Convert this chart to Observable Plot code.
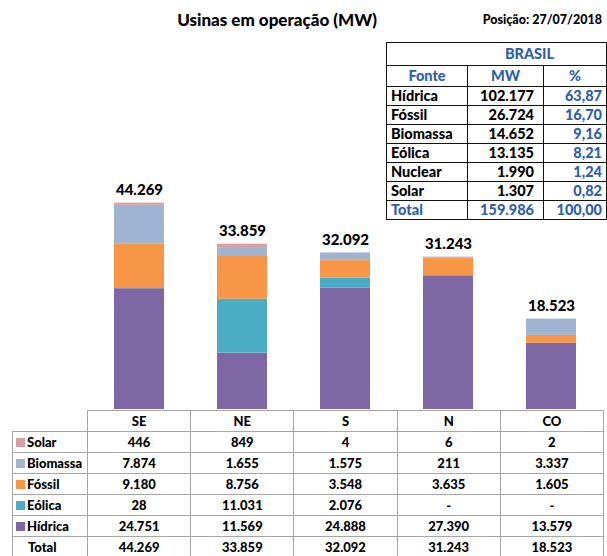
<!DOCTYPE html>
<html>
<head>
<meta charset="utf-8">
<script src="https://cdn.jsdelivr.net/npm/d3@7"></script>
<script src="https://cdn.jsdelivr.net/npm/@observablehq/plot@0.6"></script>
<style>
  html, body { margin: 0; padding: 0; background: #fff; }
  #wrap { position: relative; width: 607px; height: 556px; overflow: hidden; font-family: Lato, "Open Sans", sans-serif; font-weight: 900; color: #000; }
  #chart { position: absolute; left: 0; top: 0; }
  .title { position: absolute; top: 9px; font-size: 17px; white-space: nowrap; }
  #t1 { left: 277px; transform: translateX(-50%); }
  #t2 { right: 5px; font-size: 12.5px; top: 12px; }
  table { border-collapse: collapse; table-layout: fixed; position: absolute; }
  #brasil { left: 386px; top: 42px; width: 220px; font-size: 14.5px; }
  #brasil td { border: 1px solid #111; padding: 0 4px; height: 18px; line-height: 16px; white-space: nowrap; }
  #brasil .blue { color: #2d5fae; }
  #brasil .c { text-align: center; }
  #brasil .r { text-align: right; }
  #brasil .hdr td { height: 20px; }
  #brasil .top td { height: 22px; }
  #reg { left: 12px; top: 410px; font-size: 13px; }
  #reg td { border: 1px solid #a6a6a6; height: 20px; padding: 0 2px; text-align: center; white-space: nowrap; line-height: 18px; }
  #reg td.lab { text-align: left; padding-left: 3px; }
  #reg td.empty { border-top: none; border-left: none; }
  .sq { display: inline-block; width: 9px; height: 9px; margin-right: 2px; vertical-align: 0px; }
</style>
</head>
<body>
<div id="wrap">
  <div id="chart"></div>
  <div class="title" id="t1">Usinas em operação (MW)</div>
  <div class="title" id="t2">Posição: 27/07/2018</div>
  <table id="brasil"></table>
  <table id="reg"></table>
</div>
<script>
// ---- Data ----
const regions = ["SE", "NE", "S", "N", "CO"];
const fontes = ["Hídrica", "Eólica", "Fóssil", "Biomassa", "Solar"]; // stack order, bottom to top
const hidrica  = [24751, 11569, 24888, 27390, 13579];
const eolica   = [28, 11031, 2076, 0, 0];
const fossil   = [9180, 8756, 3548, 3635, 1605];
const biomassa = [7874, 1655, 1575, 211, 3337];
const solar    = [446, 849, 4, 6, 2];
const totals   = [44269, 33859, 32092, 31243, 18523];
const colors   = ["#7d67a5", "#4bacc6", "#f79646", "#9fb4d3", "#d9a0a1"];

const tableRows = ["Solar", "Biomassa", "Fóssil", "Eólica", "Hídrica"];

const brasilFontes = ["Hídrica", "Fóssil", "Biomassa", "Eólica", "Nuclear", "Solar"];
const brasilMW     = [102177, 26724, 14652, 13135, 1990, 1307];
const brasilPct    = [63.87, 16.70, 9.16, 8.21, 1.24, 0.82];
const brasilTotalMW = 159986;
const brasilTotalPct = 100.00;

const series = { "Hídrica": hidrica, "Eólica": eolica, "Fóssil": fossil, "Biomassa": biomassa, "Solar": solar };

// ---- Formatting (pt-BR) ----
const loc = d3.formatLocale({ decimal: ",", thousands: ".", grouping: [3], currency: ["R$", ""] });
const fInt = loc.format(",d");
const fPct = loc.format(",.2f");

// ---- Tidy data for Plot ----
const data = [];
regions.forEach((r, i) => fontes.forEach(f => data.push({ regiao: r, fonte: f, mw: series[f][i] })));
const labels = regions.map((r, i) => ({
  regiao: r,
  top: fontes.reduce((s, f) => s + series[f][i], 0),
  total: totals[i]
}));

const W = 607, left = 87, right = 4;
const plot = Plot.plot({
  width: W, height: 410,
  marginLeft: left, marginRight: right, marginTop: 165, marginBottom: 1,
  style: { fontFamily: "Lato, 'Open Sans', sans-serif", background: "transparent" },
  x: { domain: regions, paddingInner: 0.515, paddingOuter: 0.2575, axis: null },
  y: { domain: [0, 50000], axis: null },
  color: { domain: fontes, range: colors },
  marks: [
    Plot.barY(data, { x: "regiao", y: "mw", fill: "fonte", order: fontes }),
    Plot.text(labels, { x: "regiao", y: "top", text: d => fInt(d.total), dy: -13, fontSize: 15, fontWeight: 900, fill: "#000" })
  ]
});
document.getElementById("chart").appendChild(plot);

// ---- Region table ----
const colW = (W - left - right) / regions.length;
const reg = document.getElementById("reg");
let html = `<colgroup><col style="width:75px">${regions.map(() => `<col style="width:${colW}px">`).join("")}</colgroup>`;
html += `<tr><td class="empty"></td>${regions.map(r => `<td>${r}</td>`).join("")}</tr>`;
tableRows.forEach(f => {
  const c = colors[fontes.indexOf(f)];
  html += `<tr><td class="lab"><span class="sq" style="background:${c}"></span>${f}</td>` +
    series[f].map(v => `<td>${v === 0 ? "-" : fInt(v)}</td>`).join("") + `</tr>`;
});
html += `<tr><td class="lab" style="padding-left:15px">Total</td>${totals.map(v => `<td>${fInt(v)}</td>`).join("")}</tr>`;
reg.innerHTML = html;

// ---- Brasil table ----
const br = document.getElementById("brasil");
let bh = `<colgroup><col style="width:81px"><col style="width:76px"><col style="width:63px"></colgroup>`;
bh += `<tr class="top"><td colspan="3" class="blue" style="text-align:center;padding-left:70px">BRASIL</td></tr>`;
bh += `<tr class="hdr"><td class="blue c">Fonte</td><td class="blue c">MW</td><td class="blue c">%</td></tr>`;
brasilFontes.forEach((f, i) => {
  bh += `<tr><td>${f}</td><td class="r" style="padding-right:9px">${fInt(brasilMW[i])}</td><td class="r blue">${fPct(brasilPct[i])}</td></tr>`;
});
bh += `<tr><td class="blue">Total</td><td class="r blue" style="padding-right:9px">${fInt(brasilTotalMW)}</td><td class="r blue">${fPct(brasilTotalPct)}</td></tr>`;
br.innerHTML = bh;
</script>
</body>
</html>
